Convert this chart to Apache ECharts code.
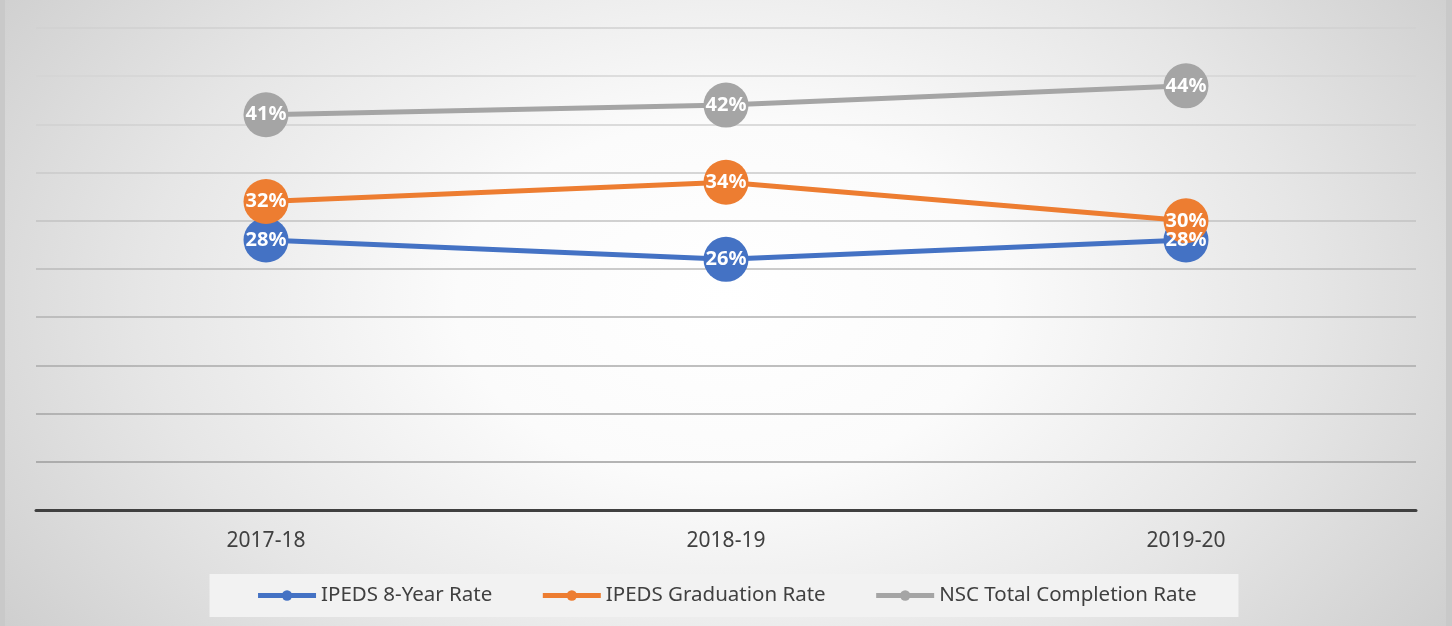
<!DOCTYPE html>
<html>
<head>
<meta charset="utf-8">
<script src="https://cdn.jsdelivr.net/npm/echarts@6/dist/echarts.min.js"></script>
<style>
html,body{margin:0;padding:0;width:1452px;height:626px;overflow:hidden;background:#c9c9c9;}
#wrap{position:absolute;left:5px;top:0;width:1441px;height:626px;
background:radial-gradient(ellipse 62% 95% at 50% 48%, #ffffff 0%, #fbfbfb 30%, #e6e6e6 65%, #cdcdcd 100%);}
#main{position:absolute;left:0;top:0;width:1452px;height:626px;}
</style>
</head>
<body>
<div id="wrap"></div>
<div id="main"></div>
<script>
const categories = ['2017-18', '2018-19', '2019-20'];
const seriesNames = ['IPEDS 8-Year Rate', 'IPEDS Graduation Rate', 'NSC Total Completion Rate'];
const ipeds8Year = [28, 26, 28];
const ipedsGrad = [32, 34, 30];
const nscCompletion = [41, 42, 44];
const colors = ['#4472C4', '#ED7D31', '#A5A5A5'];

const chart = echarts.init(document.getElementById('main'), null, {renderer: 'canvas'});
const font = '"Noto Sans", "Open Sans", sans-serif';
function mk(name, data, color) {
  return {
    name: name, type: 'line', data: data,
    symbol: 'circle', symbolSize: 45,
    lineStyle: {width: 5, color: color},
    itemStyle: {color: color},
    label: {show: true, position: 'inside', formatter: '{c}%', color: '#fff',
      fontFamily: font, fontWeight: 'bold', fontSize: 20},
    emphasis: {disabled: true},
    animation: false
  };
}
chart.setOption({
  backgroundColor: 'transparent',
  animation: false,
  grid: {left: 36, right: 36, top: 28, bottom: 116},
  legend: {
    data: seriesNames, bottom: 9, left: 'center',
    backgroundColor: '#f2f2f2', padding: [11, 42, 11, 46],
    itemWidth: 58, itemHeight: 13, itemGap: 48,
    lineStyle: {width: 5},
    textStyle: {fontFamily: font, fontSize: 20.5, color: '#404040'}
  },
  xAxis: {
    type: 'category', data: categories, boundaryGap: true,
    axisLine: {lineStyle: {color: '#404040', width: 3}},
    axisTick: {show: false},
    axisLabel: {fontFamily: font, fontSize: 21, color: '#404040', margin: 21}
  },
  yAxis: {
    type: 'value', min: 0, max: 50, interval: 5,
    axisLabel: {show: false}, axisLine: {show: false}, axisTick: {show: false},
    splitLine: {lineStyle: {width: 1.5, color: ['#404040', '#9d9d9d', '#a4a4a4', '#aaaaaa', '#b2b2b2', '#bababa', '#c2c2c2', '#cacaca', '#d0d0d0', '#d4d4d4', '#d0d0d0']}}
  },
  series: [
    mk(seriesNames[0], ipeds8Year, colors[0]),
    mk(seriesNames[1], ipedsGrad, colors[1]),
    mk(seriesNames[2], nscCompletion, colors[2])
  ]
});
</script>
</body>
</html>
